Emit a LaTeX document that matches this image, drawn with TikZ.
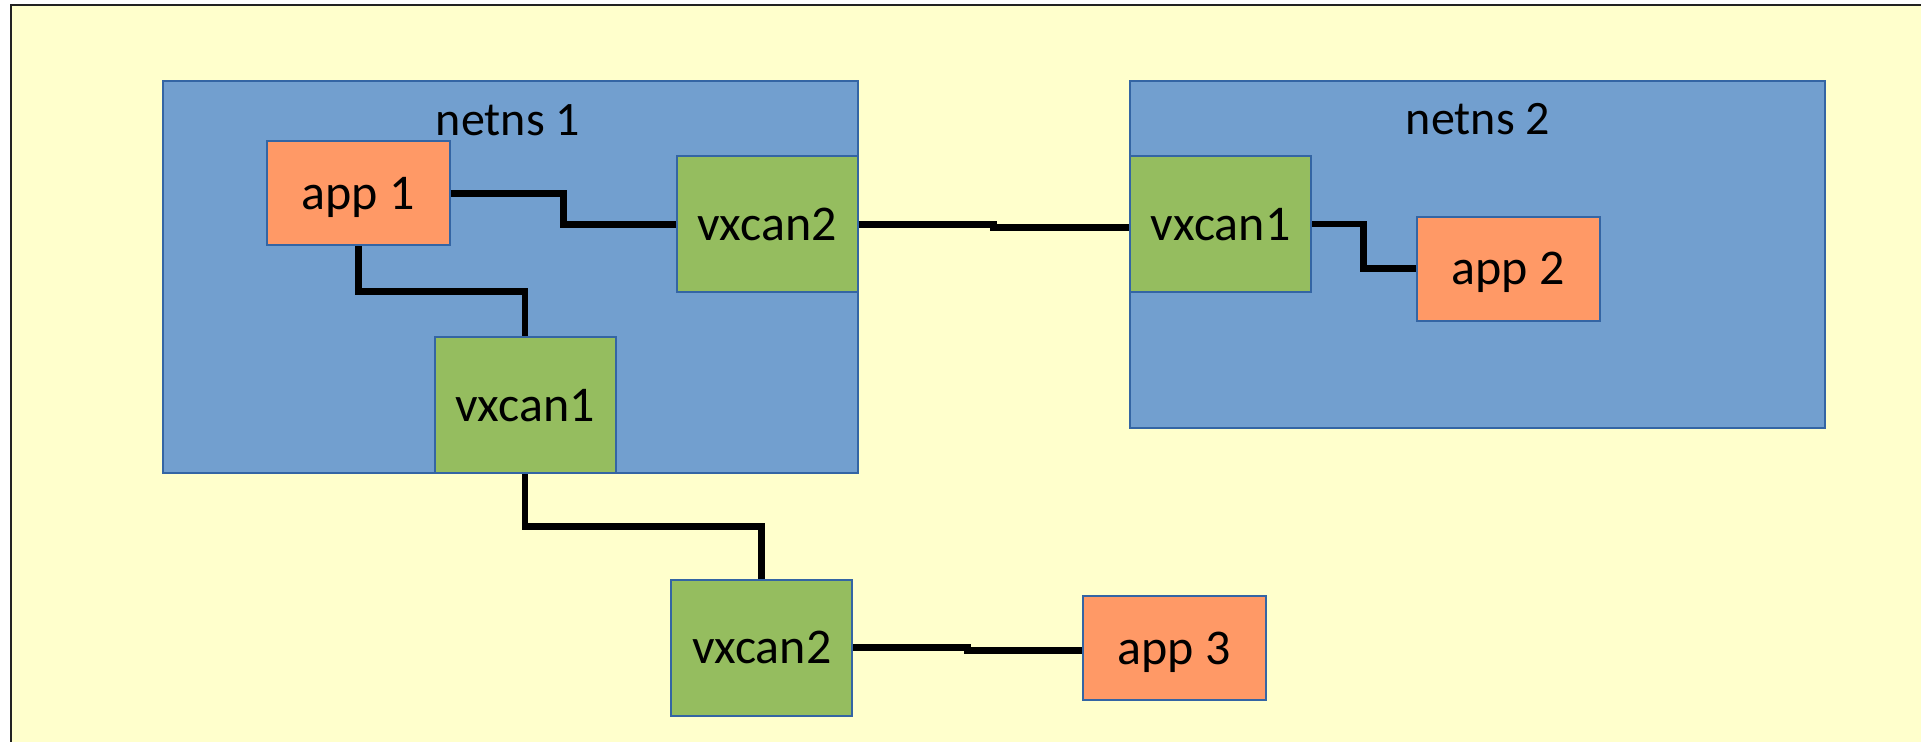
\documentclass[tikz,border=0pt]{standalone}
\usepackage{fontspec}
\setmainfont{Carlito}
\usetikzlibrary{calc}

\definecolor{paper}{HTML}{FFFFCC}
\definecolor{framegray}{HTML}{222222}
\definecolor{nsblue}{HTML}{729FCF}
\definecolor{edgeblue}{HTML}{3465A4}
\definecolor{ifgreen}{HTML}{95BD5F}
\definecolor{apporange}{HTML}{FF9966}

\tikzset{
  box/.style={draw=edgeblue, line width=1pt, inner sep=0pt, text depth=0pt,
              font=\fontsize{25}{30}\selectfont},
  nsbox/.style={box, fill=nsblue},
  appbox/.style={box, fill=apporange, minimum width=91.5pt, minimum height=52pt},
  ifbox/.style={box, fill=ifgreen, minimum width=90.5pt, minimum height=68pt},
  nslabel/.style={anchor=base, inner sep=0pt, font=\fontsize{24}{29}\selectfont},
  link/.style={draw=black, line width=3.4pt},
}

\begin{document}
\begin{tikzpicture}[x=0.5pt, y=-0.5pt]
  \useasboundingbox (0,0) rectangle (1921,742);
  \clip (0,0) rectangle (1921,742);
  \fill[white] (0,0) rectangle (1921,742);

  % light yellow sheet, its right and bottom edges run off the page
  \draw[fill=paper, draw=framegray, line width=1.25pt] (11,5) rectangle (1950,780);

  % network namespaces
  \node[nsbox, minimum width=347.75pt, minimum height=196.15pt] (ns1) at (510.25,276.85) {};
  \node[nsbox, minimum width=347.35pt, minimum height=173.8pt]  (ns2) at (1477.15,254.5) {};
  \node[nslabel] (ns1lbl) at (508,135.5) {netns 1};
  \node[nslabel] (ns2lbl) at (1478,135) {netns 2};

  % interfaces and applications
  \node[appbox] (app1) at (358.25,193.35) {app 1};
  \node[ifbox]  (v2a)  at (767,224.2)     {vxcan2};
  \node[ifbox]  (v1a)  at (525,405.5)     {vxcan1};
  \node[ifbox]  (v1b)  at (1220.6,224)    {vxcan1};
  \node[appbox] (app2) at (1508,268.7)    {app 2};
  \node[ifbox]  (v2b)  at (761.7,647.5)   {vxcan2};
  \node[appbox] (app3) at (1174.3,648.4)  {app 3};

  % links
  \draw[link] (app1.east) -| ($(app1.east)!.5!(v2a.west)$) |- (v2a.west);
  \draw[link] (app1.south) |- ($(app1.south)!.5!(v1a.north)$) -| (v1a.north);
  \draw[link] (v2a.east) -| ($(v2a.east)!.5!([yshift=-1.6pt]v1b.west)$) |- ([yshift=-1.6pt]v1b.west);
  \draw[link] (v1b.east) -| ($(v1b.east)!.5!(app2.west)$) |- (app2.west);
  \draw[link] (v1a.south) |- ($(v1a.south)!.5!(v2b.north)$) -| (v2b.north);
  \draw[link] (v2b.east) -| ($(v2b.east)!.5!([yshift=-1.2pt]app3.west)$) |- ([yshift=-1.2pt]app3.west);
\end{tikzpicture}
\end{document}
